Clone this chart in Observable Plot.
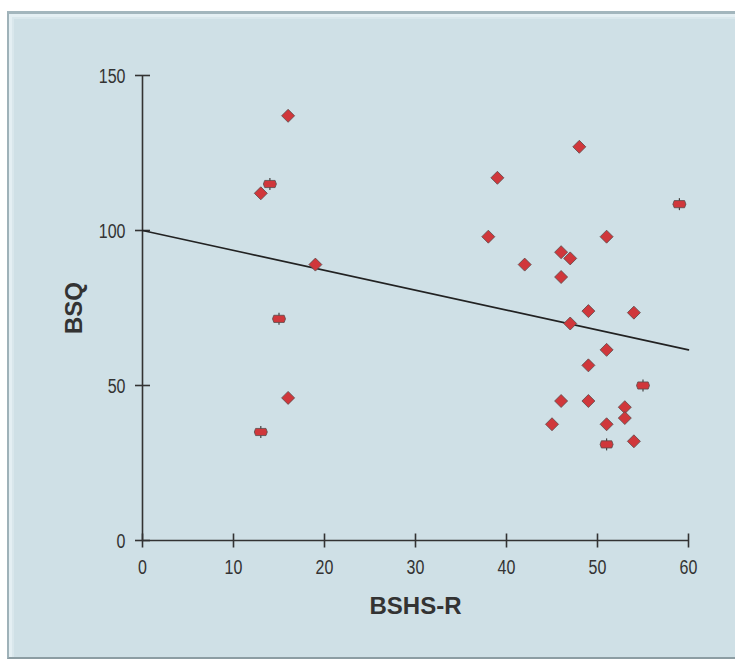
<!DOCTYPE html>
<html>
<head>
<meta charset="utf-8">
<script src="https://cdn.jsdelivr.net/npm/d3@7"></script>
<script src="https://cdn.jsdelivr.net/npm/@observablehq/plot@0.6"></script>
<style>
  html, body { margin: 0; padding: 0; background: #ffffff; overflow: hidden; }
  #wrap { position: relative; width: 735px; height: 659px; overflow: hidden; }
  #panel {
    position: absolute; left: 7px; top: 11px; right: -20px; bottom: 0;
    background: #cfe0e6;
    border-left: 2px solid #9fb2b9;
    border-top: 3px solid #a3b6bd;
    border-bottom: 2px solid #8c9da3;
    box-shadow: inset 3px 3px 0 #e4eff3, inset 5px 5px 0 #d9e7ec;
  }
  #chart { position: absolute; left: 0; top: 0; }
</style>
</head>
<body>
<div id="wrap"><div id="panel"></div><div id="chart"></div></div>
<script>
// Data
const diamondX = [16, 13, 16, 19, 48, 39, 38, 51, 46, 47, 42, 46, 49, 54, 47, 51, 49, 46, 49, 53, 53, 45, 51, 54];
const diamondY = [137, 112, 46, 89, 127, 117, 98, 98, 93, 91, 89, 85, 74, 73.5, 70, 61.5, 56.5, 45, 45, 43, 39.5, 37.5, 37.5, 32];
const plusX = [14, 15, 13, 59, 55, 51];
const plusY = [115, 71.5, 35, 108.5, 50, 31];
const trendX = [0, 60];
const trendY = [100, 61.5];
const xTicks = [0, 10, 20, 30, 40, 50, 60];
const yTicks = [0, 50, 100, 150];
const xTitle = "BSHS-R";
const yTitle = "BSQ";

const diamonds = diamondX.map((x, i) => ({x, y: diamondY[i]}));
const pluses = plusX.map((x, i) => ({x, y: plusY[i]}));
const trend = trendX.map((x, i) => ({x, y: trendY[i]}));

const rad = s => Math.sqrt(s / Math.PI);
const hline = {draw(c, s) { const r = rad(s); c.moveTo(-r, 0); c.lineTo(r, 0); }};
const vline = {draw(c, s) { const r = rad(s); c.moveTo(0, -r); c.lineTo(0, r); }};
const diamond = {draw(c, s) { const r = rad(s); c.moveTo(0, -r); c.lineTo(r, 0); c.lineTo(0, r); c.lineTo(-r, 0); c.closePath(); }};
const hexa = {draw(c, s) { const r = rad(s);
  c.moveTo(-r, 0); c.lineTo(-r * 0.8, -r * 0.55); c.lineTo(r * 0.8, -r * 0.55); c.lineTo(r, 0);
  c.lineTo(r * 0.8, r * 0.55); c.lineTo(-r * 0.8, r * 0.55); c.closePath(); }};

const tickFont = "'Liberation Sans', Arial, sans-serif";
const titleFont = "'Liberation Sans', Arial, sans-serif";
const ink = "#333333";
const red = "#d0373b";

const chart = Plot.plot({
  width: 735,
  height: 659,
  marginLeft: 142,
  marginRight: 47,
  marginTop: 75,
  marginBottom: 119,
  style: {background: "transparent", overflow: "visible"},
  x: {domain: [0, 60], axis: null},
  y: {domain: [0, 150], axis: null},
  marks: [
    Plot.ruleX([0], {y1: 0, y2: 150, stroke: ink, strokeWidth: 1.6}),
    Plot.ruleY([0], {x1: 0, x2: 60, stroke: ink, strokeWidth: 1.6}),
    Plot.dot(yTicks, {x: 0, y: d => d, symbol: hline, r: 7.5, stroke: ink, strokeWidth: 1.6, fill: "none"}),
    Plot.dot(xTicks, {x: d => d, y: 0, symbol: vline, r: 7, stroke: ink, strokeWidth: 1.6, fill: "none"}),
    Plot.text(xTicks, {x: d => d, y: 0, text: d => String(d), dy: 27, fill: ink, fontSize: 20, fontFamily: tickFont, className: "narrow"}),
    Plot.text(yTicks, {x: 0, y: d => d, text: d => String(d), dx: -17, dy: 1, textAnchor: "end", fill: ink, fontSize: 20, fontFamily: tickFont, className: "narrow"}),
    Plot.text([xTitle], {x: 30, y: 0, text: d => d, dy: 66, fill: ink, fontSize: 24, fontWeight: "bold", fontFamily: titleFont}),
    Plot.text([yTitle], {x: 0, y: 75, text: d => d, dx: -68, rotate: -90, textAnchor: "middle", fill: ink, fontSize: 24, fontWeight: "bold", fontFamily: titleFont}),
    Plot.line(trend, {x: "x", y: "y", stroke: "#222222", strokeWidth: 1.6}),
    Plot.dot(diamonds, {x: "x", y: "y", symbol: diamond, r: 6.5, fill: red, stroke: "#5a4a4a", strokeWidth: 0.8}),
    Plot.dot(pluses, {x: "x", y: "y", symbol: vline, r: 6, stroke: "#444444", strokeWidth: 1.2, fill: "none"}),
    Plot.dot(pluses, {x: "x", y: "y", symbol: hexa, r: 6.5, fill: red, stroke: "#5a4a4a", strokeWidth: 0.8})
  ]
});
// condense the tick-label glyphs horizontally (narrow typeface look)
d3.select(chart).selectAll("g.narrow text").each(function() {
  const el = d3.select(this);
  const t = el.attr("transform");
  if (t) {
    el.attr("transform", t + " scale(0.8,1)");
  } else {
    const x = +el.attr("x") || 0, y = +el.attr("y") || 0;
    el.attr("x", null).attr("y", null).attr("transform", `translate(${x},${y}) scale(0.8,1)`);
  }
});
document.getElementById("chart").appendChild(chart);
</script>
</body>
</html>
